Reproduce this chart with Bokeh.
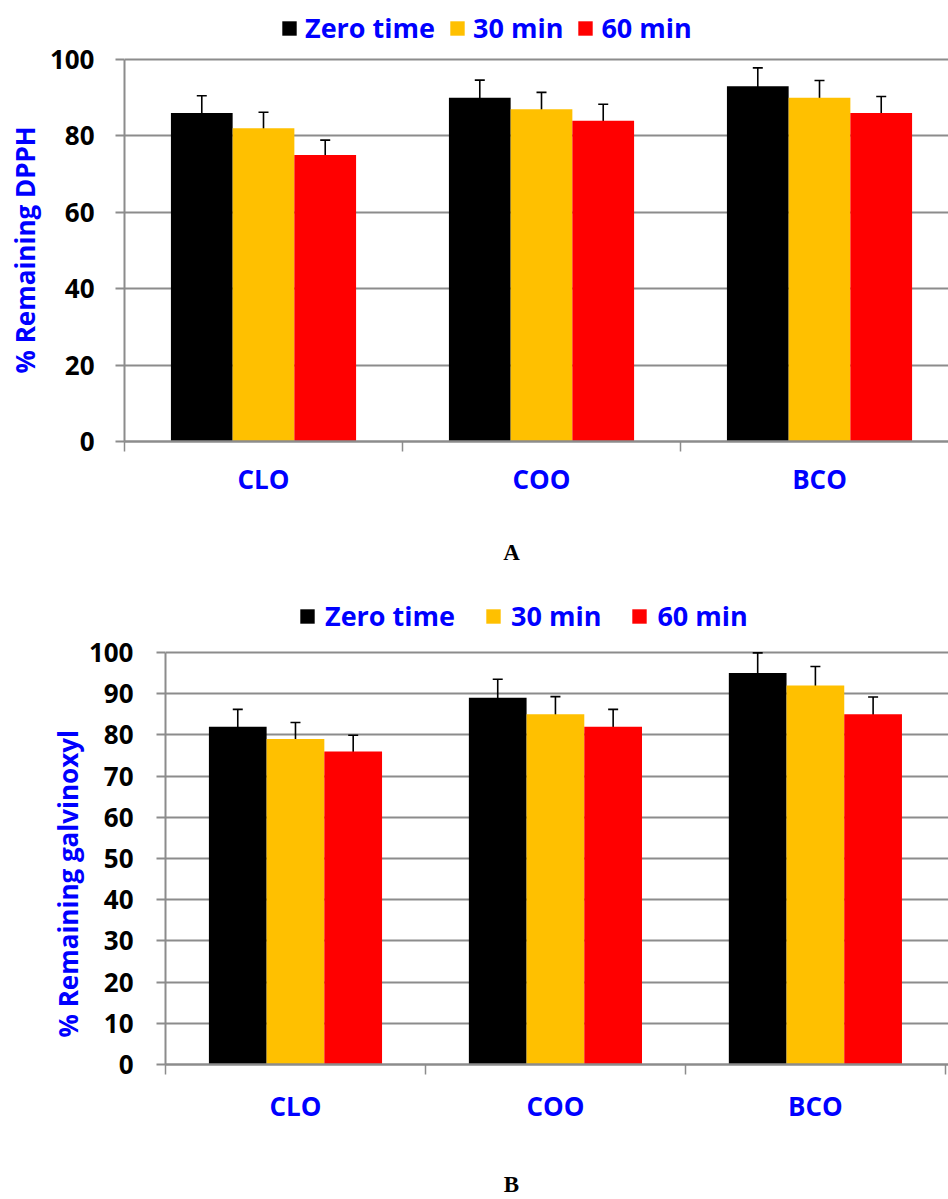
from bokeh.plotting import figure
from bokeh.models import (ColumnDataSource, Range1d, FixedTicker, Whisker, TeeHead,
                          Legend, LegendItem, Title, Label)
from bokeh.layouts import column
from bokeh.embed import file_html
from bokeh.resources import INLINE

categories = ["CLO", "COO", "BCO"]
series = ["Zero time", "30 min", "60 min"]
colors = ["#000000", "#FFC000", "#FF0000"]

# Panel A: % Remaining DPPH
dpph_zero = [86, 90, 93]
dpph_30 = [82, 87, 90]
dpph_60 = [75, 84, 86]
dpph_err_zero = [4.5, 4.6, 4.8]
dpph_err_30 = [4.2, 4.4, 4.5]
dpph_err_60 = [3.9, 4.3, 4.3]
dpph_ticks = [0, 20, 40, 60, 80, 100]

# Panel B: % Remaining galvinoxyl
galv_zero = [82, 89, 95]
galv_30 = [79, 85, 92]
galv_60 = [76, 82, 85]
galv_err_zero = [4.2, 4.5, 4.9]
galv_err_30 = [4.0, 4.3, 4.6]
galv_err_60 = [3.9, 4.2, 4.2]
galv_ticks = [0, 10, 20, 30, 40, 50, 60, 70, 80, 90, 100]

FONT = "Open Sans"
BLUE = "#0000FF"
GRAY = "#8c8c8c"
BAR_W = 0.222
OFFSETS = [-0.222, 0.0, 0.222]


def make_chart(values, errs, ytitle, ticks, height, x_end, y_top, mb_left, mb_bottom,
               xlabel_standoff, ylabel_standoff, ytitle_offset, ytitle_standoff,
               leg_loc, leg_standoff, leg_spacing):
    p = figure(width=948, height=height, x_range=Range1d(0, x_end), y_range=Range1d(0, y_top),
               output_backend="svg", toolbar_location=None,
               min_border_left=mb_left, min_border_right=0,
               min_border_top=0, min_border_bottom=mb_bottom)
    p.frame_align = False
    p.outline_line_color = None
    p.background_fill_color = "white"

    renderers = []
    for k, (vals, ers) in enumerate(zip(values, errs)):
        xs = [i + 0.5 + OFFSETS[k] for i in range(len(categories))]
        src = ColumnDataSource(dict(
            x=xs, top=vals,
            upper=[v + e for v, e in zip(vals, ers)],
            lower=[v - e for v, e in zip(vals, ers)]))
        r = p.vbar(x="x", top="top", bottom=0, width=BAR_W, source=src,
                   fill_color=colors[k], line_color=None)
        renderers.append(r)
        w = Whisker(base="x", upper="upper", lower="lower", source=src,
                    line_color="black", line_width=1.6,
                    upper_head=TeeHead(size=10, line_color="black", line_width=1.6),
                    lower_head=TeeHead(size=10, line_color="black", line_width=1.6))
        p.add_layout(w)

    # x axis
    xa = p.xaxis[0]
    xa.ticker = FixedTicker(ticks=[0.5, 1.5, 2.5], minor_ticks=[0, 1, 2, 3])
    xa.major_label_overrides = {0.5: categories[0], 1.5: categories[1], 2.5: categories[2]}
    xa.major_tick_line_color = None
    xa.major_tick_out = 0
    xa.major_tick_in = 0
    xa.minor_tick_out = 10
    xa.minor_tick_in = 0
    xa.minor_tick_line_color = GRAY
    xa.minor_tick_line_width = 1.5
    xa.axis_line_color = GRAY
    xa.axis_line_width = 2.5
    xa.major_label_standoff = xlabel_standoff
    xa.major_label_text_font = FONT
    xa.major_label_text_font_style = "bold"
    xa.major_label_text_font_size = "26px"
    xa.major_label_text_color = BLUE

    # y axis
    ya = p.yaxis[0]
    ya.ticker = FixedTicker(ticks=ticks, minor_ticks=[])
    ya.bounds = (ticks[0], ticks[-1])
    ya.major_tick_out = 9
    ya.major_tick_in = 0
    ya.major_tick_line_color = GRAY
    ya.major_tick_line_width = 2
    ya.axis_line_color = GRAY
    ya.axis_line_width = 2
    ya.major_label_standoff = ylabel_standoff
    ya.major_label_text_font = FONT
    ya.major_label_text_font_style = "bold"
    ya.major_label_text_font_size = "26px"
    ya.major_label_text_color = "black"

    # y-axis title as a left-side title, positioned along the axis
    yt = Title(text=ytitle, align="left", offset=ytitle_offset, standoff=ytitle_standoff,
               text_font=FONT, text_font_style="bold", text_font_size="26px",
               text_color=BLUE)
    p.add_layout(yt, "left")

    p.xgrid.visible = False
    p.ygrid.ticker = FixedTicker(ticks=ticks, minor_ticks=[])
    p.ygrid.grid_line_color = GRAY
    p.ygrid.grid_line_width = 2

    legend = Legend(items=[LegendItem(label=s, renderers=[r]) for s, r in zip(series, renderers)],
                    orientation="horizontal", location=leg_loc,
                    glyph_width=18, glyph_height=18,
                    label_standoff=leg_standoff, spacing=leg_spacing,
                    padding=0, margin=0, border_line_color=None,
                    background_fill_alpha=0,
                    label_text_font=FONT, label_text_font_style="bold",
                    label_text_font_size="27px", label_text_color=BLUE)
    p.add_layout(legend, "center")
    return p


def make_letter_fig(height, letter, cx, cy_from_top):
    f = figure(width=948, height=height, x_range=Range1d(0, 948), y_range=Range1d(0, height),
               output_backend="svg", toolbar_location=None,
               x_axis_location=None, y_axis_location=None, min_border=0)
    f.frame_align = False
    f.outline_line_color = None
    f.xgrid.visible = False
    f.ygrid.visible = False
    f.add_layout(Label(x=cx, y=height - cy_from_top, text=letter,
                       text_font="Liberation Serif", text_font_style="bold",
                       text_font_size="23px", text_color="black",
                       text_align="center", text_baseline="middle"))
    return f


pA = make_chart([dpph_zero, dpph_30, dpph_60], [dpph_err_zero, dpph_err_30, dpph_err_60],
                "% Remaining DPPH", dpph_ticks, height=530, x_end=2.964, y_top=115.45,
                mb_left=124, mb_bottom=89, xlabel_standoff=9, ylabel_standoff=21,
                ytitle_offset=68, ytitle_standoff=8,
                leg_loc=(156, 395), leg_standoff=7, leg_spacing=13)
letA = make_letter_fig(60, "A", 511, 21.5)

pB = make_chart([galv_zero, galv_30, galv_60], [galv_err_zero, galv_err_30, galv_err_60],
                "% Remaining galvinoxyl", galv_ticks, height=576, x_end=3.012, y_top=115.05,
                mb_left=165, mb_bottom=102, xlabel_standoff=13, ylabel_standoff=23,
                ytitle_offset=27, ytitle_standoff=0,
                leg_loc=(133, 430), leg_standoff=9, leg_spacing=29)
letB = make_letter_fig(33, "B", 511, 18)

layout = column(pA, letA, pB, letB)
open("out.html", "w").write(file_html(layout, INLINE))
